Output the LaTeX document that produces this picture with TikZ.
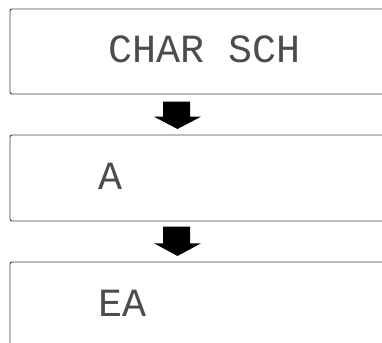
\documentclass[tikz,border=0pt]{standalone}
\usepackage{fontspec}
\newfontfamily\lcdfont{Liberation Mono}
\begin{document}
\begin{tikzpicture}[x=1pt,y=1pt,
  panel/.style={draw=black!75,line width=0.9pt,rounded corners=2pt},
  lcd/.style={font=\lcdfont\fontsize{40}{40}\selectfont,text=black!70,inner sep=0pt},
  blockarrow/.style={fill=black}]
\useasboundingbox (0,0) rectangle (382,342);
\draw[panel] (10,333) rectangle (392,248);
\draw[panel] (10,207) rectangle (392,121);
\draw[panel] (10,80) rectangle (392,-10);
\coordinate (box1) at (10,248);
\node[lcd,anchor=base] (t1) at (204.5,279) {CHAR SCH};
\node[lcd,anchor=base west] (t2) at (98,152) {A};
\node[lcd,anchor=base west] (t3) at (98,25) {EA};
\fill[blockarrow] (163,240.3) -- (190,240.3) -- (190,225.3) -- (201,225.3) -- (177.5,213) -- (154,225.3) -- (163,225.3) -- cycle;
\fill[blockarrow] (163,115.3) -- (190,115.3) -- (190,98.7) -- (201,98.7) -- (177.5,86) -- (154,98.7) -- (163,98.7) -- cycle;
\end{tikzpicture}
\end{document}
